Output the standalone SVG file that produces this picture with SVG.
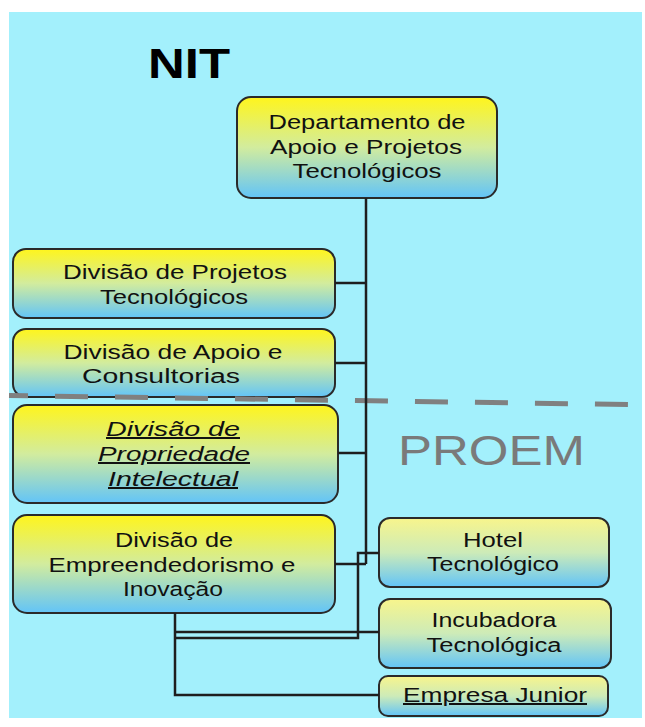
<svg xmlns="http://www.w3.org/2000/svg" width="645" height="727" viewBox="0 0 645 727">
<defs>
<linearGradient id="gBox" x1="0" y1="0" x2="0" y2="1">
<stop offset="0" stop-color="#FFF51C"/>
<stop offset="0.5" stop-color="#D2EC9E"/>
<stop offset="1" stop-color="#62C4F8"/>
</linearGradient>
<linearGradient id="gSmall" x1="0" y1="0" x2="0" y2="1">
<stop offset="0" stop-color="#F8F58C"/>
<stop offset="0.5" stop-color="#CDEBB8"/>
<stop offset="1" stop-color="#62C4F8"/>
</linearGradient>
<style>
.box{fill:url(#gBox);stroke:#2a2a2a;stroke-width:2}
.sbox{fill:url(#gSmall);stroke:#2a2a2a;stroke-width:2}
.t{font-family:"Liberation Sans",Arial,sans-serif;font-size:20px;fill:#111;text-anchor:middle}
.it{font-style:italic;text-decoration:underline}
.u{text-decoration:underline}
.conn{fill:none;stroke:#1e1e1e;stroke-width:2.5}
</style>
</defs>
<rect x="0" y="0" width="645" height="727" fill="#ffffff"/>
<rect x="9" y="12" width="633" height="706" fill="#A3F0FC"/>
<text x="148" y="78" font-family="Liberation Sans,Arial,sans-serif" font-weight="bold" font-size="43" fill="#000" textLength="82" lengthAdjust="spacingAndGlyphs">NIT</text>
<text x="398" y="465" font-family="Liberation Sans,Arial,sans-serif" font-size="42" fill="#7a7a7a" textLength="187" lengthAdjust="spacingAndGlyphs">PROEM</text>

<g id="dept">
<rect class="box" x="237" y="97" width="260" height="101" rx="14"/>
<text class="t" x="367" y="129" textLength="197" lengthAdjust="spacingAndGlyphs">Departamento de</text>
<text class="t" x="366" y="154" textLength="192" lengthAdjust="spacingAndGlyphs">Apoio e Projetos</text>
<text class="t" x="367" y="178" textLength="149" lengthAdjust="spacingAndGlyphs">Tecnológicos</text>
</g>
<g id="div-projetos">
<rect class="box" x="13" y="249" width="322" height="69" rx="13"/>
<text class="t" x="175" y="279" textLength="224" lengthAdjust="spacingAndGlyphs">Divisão de Projetos</text>
<text class="t" x="174" y="304" textLength="148" lengthAdjust="spacingAndGlyphs">Tecnológicos</text>
</g>
<g id="div-apoio">
<rect class="box" x="13" y="329" width="322" height="68" rx="13"/>
<text class="t" x="173" y="359" textLength="219" lengthAdjust="spacingAndGlyphs">Divisão de Apoio e</text>
<text class="t" x="161" y="383" textLength="158" lengthAdjust="spacingAndGlyphs">Consultorias</text>
</g>
<g id="div-propriedade">
<rect class="box" x="13" y="405" width="325" height="98" rx="14"/>
<text class="t it" x="173" y="436" textLength="134" lengthAdjust="spacingAndGlyphs">Divisão de</text>
<text class="t it" x="174" y="461" textLength="152" lengthAdjust="spacingAndGlyphs">Propriedade</text>
<text class="t it" x="173" y="486" textLength="130" lengthAdjust="spacingAndGlyphs">Intelectual</text>
</g>
<g id="div-empreendedorismo">
<rect class="box" x="13" y="515" width="322" height="98" rx="14"/>
<text class="t" x="174" y="547" textLength="118" lengthAdjust="spacingAndGlyphs">Divisão de</text>
<text class="t" x="172" y="572" textLength="247" lengthAdjust="spacingAndGlyphs">Empreendedorismo e</text>
<text class="t" x="173" y="596" textLength="100" lengthAdjust="spacingAndGlyphs">Inovação</text>
</g>
<g id="hotel">
<rect class="sbox" x="379" y="518" width="230" height="69" rx="11"/>
<text class="t" x="493" y="547" textLength="60" lengthAdjust="spacingAndGlyphs">Hotel</text>
<text class="t" x="493" y="571" textLength="132" lengthAdjust="spacingAndGlyphs">Tecnológico</text>
</g>
<g id="incubadora">
<rect class="sbox" x="379" y="599" width="232" height="69" rx="11"/>
<text class="t" x="494" y="627" textLength="125" lengthAdjust="spacingAndGlyphs">Incubadora</text>
<text class="t" x="494" y="652" textLength="135" lengthAdjust="spacingAndGlyphs">Tecnológica</text>
</g>
<g id="empresa-junior">
<rect class="sbox" x="379" y="676" width="229" height="40" rx="9"/>
<text class="t u" x="495" y="702" textLength="184" lengthAdjust="spacingAndGlyphs">Empresa Junior</text>
</g>

<line x1="9" y1="395.5" x2="642" y2="404.8" stroke="#808080" stroke-width="5" stroke-dasharray="33 27" stroke-dashoffset="14"/>

<g id="connectors">
<path class="conn" d="M366 198 V564" stroke-width="3.5"/>
<path class="conn" d="M335 283 H366"/>
<path class="conn" d="M335 363 H366"/>
<path class="conn" d="M338 453 H366"/>
<path class="conn" d="M335 564 H366"/>
<path class="conn" d="M379 553 H358 V638 H175"/>
<path class="conn" d="M379 632 H175"/>
<path class="conn" d="M175 613 V695 H379"/>
</g>
</svg>
